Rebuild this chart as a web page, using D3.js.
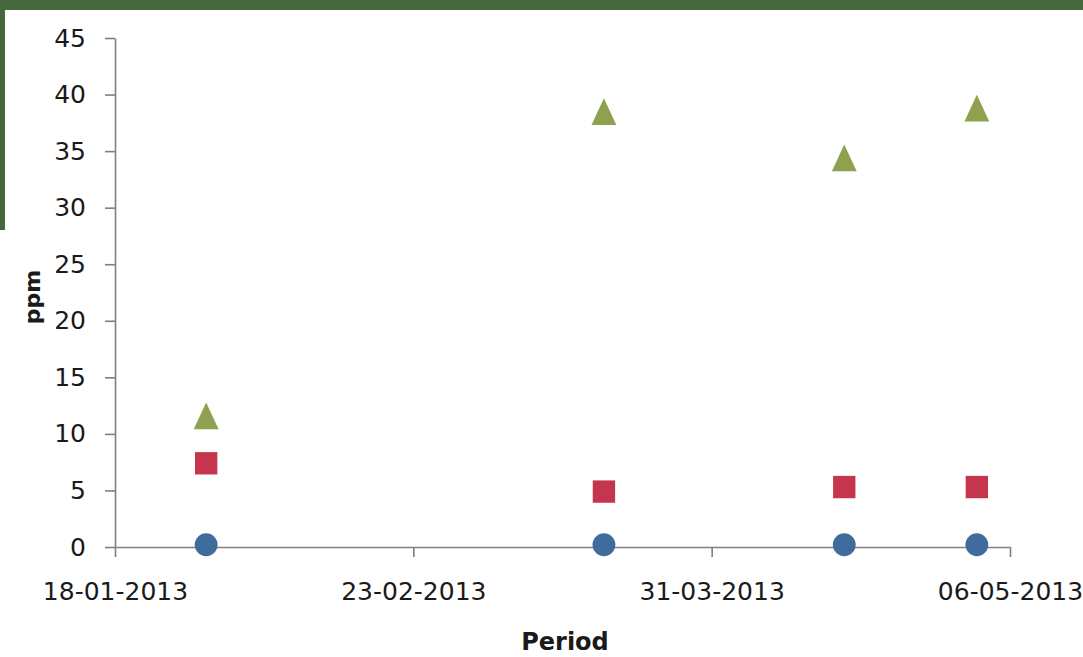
<!DOCTYPE html>
<html>
<head>
<meta charset="utf-8">
<script src="https://cdn.jsdelivr.net/npm/d3@7"></script>
<style>
  body { margin: 0; background: #fff; }
  text { font-family: "DejaVu Sans", Verdana, sans-serif; fill: #1a1a1a; }
</style>
</head>
<body>
<script>
var width = 1083,
    height = 657;

// sampling dates and measured concentrations (ppm)
var dates = ["29-01-2013", "18-03-2013", "16-04-2013", "02-05-2013"];
var blueValues = [0.2, 0.2, 0.2, 0.2];
var redValues = [7.4, 4.9, 5.3, 5.3];
var greenValues = [11.2, 38.1, 34.0, 38.4];
var xTickLabels = ["18-01-2013", "23-02-2013", "31-03-2013", "06-05-2013"];
var yTicks = [0, 5, 10, 15, 20, 25, 30, 35, 40, 45];

var parse = d3.utcParse("%d-%m-%Y"),
    fmt = d3.utcFormat("%d-%m-%Y");

var svg = d3.select("body").append("svg")
    .attr("width", width)
    .attr("height", height);

// green frame pieces of the slide behind the chart
svg.append("rect").attr("x", 0).attr("y", 0).attr("width", width).attr("height", 10).attr("fill", "#47683a");
svg.append("rect").attr("x", 0).attr("y", 0).attr("width", 5).attr("height", 230).attr("fill", "#47683a");

var x = d3.scaleUtc()
    .domain([parse(xTickLabels[0]), parse(xTickLabels[xTickLabels.length - 1])])
    .range([115, 1010]);

var y = d3.scaleLinear()
    .domain([0, 45])
    .range([547, 38]);

svg.append("g")
    .attr("transform", "translate(0," + y(0) + ")")
    .call(d3.axisBottom(x)
        .tickValues(xTickLabels.map(parse))
        .tickFormat(fmt)
        .tickSizeInner(10)
        .tickSizeOuter(0)
        .tickPadding(25));

svg.append("g")
    .attr("transform", "translate(" + x.range()[0] + ",0)")
    .call(d3.axisLeft(y)
        .tickValues(yTicks)
        .tickSizeInner(10)
        .tickSizeOuter(0)
        .tickPadding(19));

svg.selectAll(".domain, .tick line")
    .attr("stroke", "#7f7f7f")
    .attr("stroke-width", 1.6);

svg.selectAll(".tick text")
    .attr("font-size", 25)
    .attr("font-family", "DejaVu Sans, Verdana, sans-serif")
    .attr("fill", "#1a1a1a");

svg.append("text")
    .attr("x", 565)
    .attr("y", 650)
    .attr("text-anchor", "middle")
    .attr("font-size", 24)
    .attr("font-weight", "bold")
    .text("Period");

svg.append("text")
    .attr("transform", "translate(40,297)rotate(-90)")
    .attr("text-anchor", "middle")
    .attr("font-size", 22)
    .attr("font-weight", "bold")
    .text("ppm");

var series = [
    { values: blueValues, shape: d3.symbolCircle, size: 410, stretch: "", color: "#3f6c9c" },
    { values: redValues, shape: d3.symbolSquare, size: 500, stretch: "", color: "#c5354d" },
    { values: greenValues, shape: d3.symbolTriangle, size: 330, stretch: "scale(0.9,1.12)", color: "#8ea14e" }
];

series.forEach(function(s) {
    svg.append("g").selectAll("path")
        .data(s.values)
      .enter().append("path")
        .attr("transform", function(d, i) {
            return "translate(" + x(parse(dates[i])) + "," + y(d) + ")" + s.stretch;
        })
        .attr("d", d3.symbol().type(s.shape).size(s.size))
        .attr("fill", s.color);
});
</script>
</body>
</html>
